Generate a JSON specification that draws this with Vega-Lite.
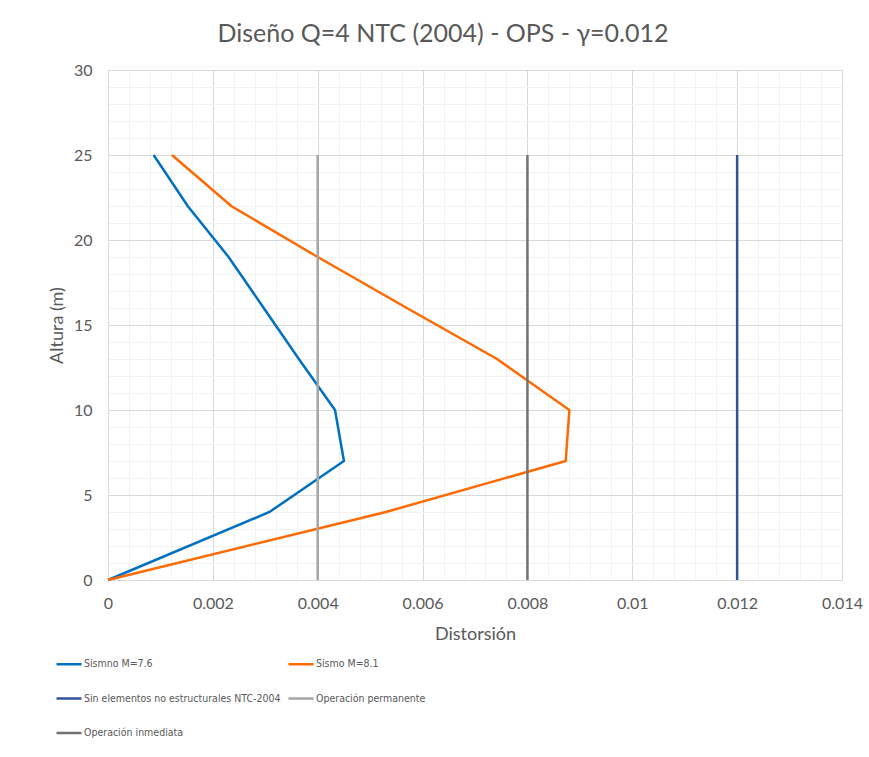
{
  "$schema": "https://vega.github.io/schema/vega-lite/v6.json",
  "width": 734,
  "height": 510,
  "autosize": {"type": "none"},
  "padding": {"left": 108, "top": 70, "right": 27, "bottom": 177},
  "background": "white",
  "config": {
    "font": "Lato, sans-serif",
    "view": {"stroke": null}
  },
  "title": {
    "text": "Diseño Q=4 NTC (2004) - OPS - γ=0.012",
    "fontSize": 25,
    "fontWeight": "normal",
    "color": "#595959",
    "anchor": "middle",
    "dx": -32,
    "baseline": "alphabetic",
    "offset": -5
  },
  "data": {
    "values": [
      {"serie": "Sismno M=7.6", "d": 0, "h": 0},
      {"serie": "Sismno M=7.6", "d": 0.00308, "h": 4},
      {"serie": "Sismno M=7.6", "d": 0.0045, "h": 7},
      {"serie": "Sismno M=7.6", "d": 0.00433, "h": 10},
      {"serie": "Sismno M=7.6", "d": 0.00364, "h": 13},
      {"serie": "Sismno M=7.6", "d": 0.00297, "h": 16},
      {"serie": "Sismno M=7.6", "d": 0.0023, "h": 19},
      {"serie": "Sismno M=7.6", "d": 0.00152, "h": 22},
      {"serie": "Sismno M=7.6", "d": 0.00087, "h": 25},
      {"serie": "Sismo M=8.1", "d": 0, "h": 0},
      {"serie": "Sismo M=8.1", "d": 0.0053, "h": 4},
      {"serie": "Sismo M=8.1", "d": 0.00873, "h": 7},
      {"serie": "Sismo M=8.1", "d": 0.0088, "h": 10},
      {"serie": "Sismo M=8.1", "d": 0.00742, "h": 13},
      {"serie": "Sismo M=8.1", "d": 0.0057, "h": 16},
      {"serie": "Sismo M=8.1", "d": 0.004, "h": 19},
      {"serie": "Sismo M=8.1", "d": 0.00235, "h": 22},
      {"serie": "Sismo M=8.1", "d": 0.00122, "h": 25},
      {"serie": "Sin elementos no estructurales NTC-2004", "d": 0.012, "h": 0},
      {"serie": "Sin elementos no estructurales NTC-2004", "d": 0.012, "h": 25},
      {"serie": "Operación permanente", "d": 0.004, "h": 0},
      {"serie": "Operación permanente", "d": 0.004, "h": 25},
      {"serie": "Operación inmediata", "d": 0.008, "h": 0},
      {"serie": "Operación inmediata", "d": 0.008, "h": 25}
    ]
  },
  "mark": {"type": "line", "strokeWidth": 2.5, "strokeCap": "butt"},
  "encoding": {
    "x": {
      "field": "d",
      "type": "quantitative",
      "scale": {"domain": [0, 0.014], "nice": false, "zero": false},
      "axis": {
        "title": "Distorsión",
        "titleFontSize": 18,
        "titleFontWeight": "normal",
        "titleColor": "#595959",
        "titleX": 367,
        "titleY": 54,
        "titleBaseline": "middle",
        "values": [0, 0.0004, 0.0008, 0.0012, 0.0016, 0.002, 0.0024, 0.0028, 0.0032, 0.0036, 0.004, 0.0044, 0.0048, 0.0052, 0.0056, 0.006, 0.0064, 0.0068, 0.0072, 0.0076, 0.008, 0.0084, 0.0088, 0.0092, 0.0096, 0.01, 0.0104, 0.0108, 0.0112, 0.0116, 0.012, 0.0124, 0.0128, 0.0132, 0.0136, 0.014],
        "labelExpr": "abs(datum.value*500 - round(datum.value*500)) < 0.001 ? format(datum.value, '~g') : ''",
        "labelOverlap": false,
        "labelFlush": false,
        "labelFontSize": 16,
        "labelColor": "#595959",
        "labelPadding": 15,
        "ticks": false,
        "domainColor": "#D9D9D9",
        "gridColor": {"condition": {"test": "abs(datum.value*500 - round(datum.value*500)) < 0.001", "value": "#D9D9D9"}, "value": "#F2F2F2"}
      }
    },
    "y": {
      "field": "h",
      "type": "quantitative",
      "scale": {"domain": [0, 30], "nice": false},
      "axis": {
        "title": "Altura (m)",
        "titleFontSize": 18,
        "titleFontWeight": "normal",
        "titleColor": "#595959",
        "titleX": -51,
        "titleY": 255,
        "titleAngle": -90,
        "titleAlign": "center",
        "titleBaseline": "middle",
        "values": [0,1,2,3,4,5,6,7,8,9,10,11,12,13,14,15,16,17,18,19,20,21,22,23,24,25,26,27,28,29,30],
        "labelExpr": "datum.value % 5 === 0 ? datum.label : ''",
        "labelOverlap": false,
        "labelFlush": false,
        "labelFontSize": 16,
        "labelColor": "#595959",
        "labelPadding": 16,
        "ticks": false,
        "domainColor": "#D9D9D9",
        "gridColor": {"condition": {"test": "datum.value % 5 === 0", "value": "#D9D9D9"}, "value": "#F2F2F2"}
      }
    },
    "color": {
      "field": "serie",
      "type": "nominal",
      "scale": {
        "domain": ["Sismno M=7.6", "Sismo M=8.1", "Sin elementos no estructurales NTC-2004", "Operación permanente", "Operación inmediata"],
        "range": ["#0070C0", "#FF6A00", "#2F5597", "#A5A5A5", "#767171"]
      },
      "legend": {
        "title": null,
        "orient": "none",
        "direction": "horizontal",
        "legendX": -53,
        "legendY": 580,
        "columns": 2,
        "symbolType": "stroke",
        "symbolSize": 625,
        "symbolStrokeWidth": 2.5,
        "labelFont": "DejaVu Sans Condensed, Liberation Sans Narrow, Lato, sans-serif",
        "labelFontSize": 10.5,
        "labelColor": "#595959",
        "labelOffset": 1,
        "rowPadding": 14.5,
        "columnPadding": 2,
        "labelLimit": 400
      }
    },
    "order": {"field": "h", "type": "quantitative"},
    "detail": {"field": "serie"}
  }
}
